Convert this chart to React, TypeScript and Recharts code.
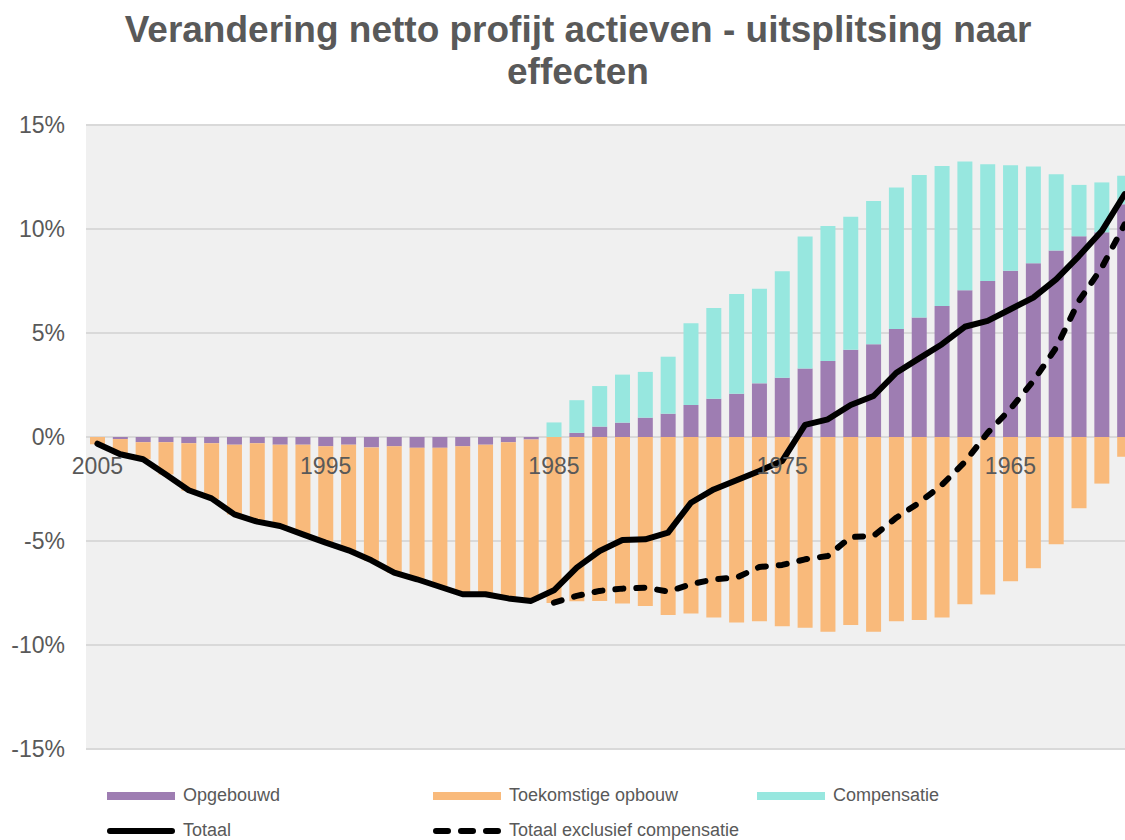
import React from 'react'
import {
  ComposedChart,
  Bar,
  Line,
  XAxis,
  YAxis,
  CartesianGrid,
} from 'recharts'

// categories (x axis runs from 2005 back to 1960)
const years = [
  2005, 2004, 2003, 2002, 2001, 2000, 1999, 1998, 1997, 1996,
  1995, 1994, 1993, 1992, 1991, 1990, 1989, 1988, 1987, 1986,
  1985, 1984, 1983, 1982, 1981, 1980, 1979, 1978, 1977, 1976,
  1975, 1974, 1973, 1972, 1971, 1970, 1969, 1968, 1967, 1966,
  1965, 1964, 1963, 1962, 1961, 1960,
]

// values in %
const opgebouwd = [
  0, -0.1, -0.25, -0.25, -0.3, -0.3, -0.37, -0.3, -0.37, -0.37,
  -0.45, -0.37, -0.5, -0.45, -0.52, -0.52, -0.45, -0.37, -0.25, -0.12,
  0, 0.2, 0.5, 0.69, 0.93, 1.12, 1.54, 1.84, 2.08, 2.58,
  2.85, 3.29, 3.65, 4.2, 4.46, 5.19, 5.74, 6.3, 7.06, 7.5,
  7.99, 8.35, 8.97, 9.65, 9.84, 11.19,
]

const toekomstigeOpbouw = [
  -0.35, -0.73, -0.82, -1.55, -2.28, -2.68, -3.35, -3.77, -3.92, -4.31,
  -4.63, -5.1, -5.45, -6.08, -6.35, -6.7, -7.1, -7.2, -7.5, -7.76,
  -7.98, -7.9, -7.88, -8.01, -8.13, -8.56, -8.49, -8.68, -8.92, -8.86,
  -9.1, -9.17, -9.36, -9.04, -9.36, -8.86, -8.8, -8.68, -8.04, -7.57,
  -6.94, -6.31, -5.16, -3.43, -2.24, -0.95,
]

const compensatie = [
  0, 0, 0, 0, 0, 0, 0, 0, 0, 0,
  0, 0, 0, 0, 0, 0, 0, 0, 0, 0,
  0.7, 1.57, 1.95, 2.31, 2.2, 2.74, 3.93, 4.36, 4.79, 4.55,
  5.12, 6.35, 6.49, 6.39, 6.89, 6.81, 6.86, 6.73, 6.18, 5.61,
  5.07, 4.65, 3.66, 2.47, 2.4, 1.37,
]

const totaal = [
  -0.32, -0.83, -1.07, -1.8, -2.56, -2.95, -3.72, -4.07, -4.28, -4.68,
  -5.08, -5.45, -5.93, -6.52, -6.84, -7.2, -7.56, -7.56, -7.76, -7.88,
  -7.37, -6.28, -5.48, -4.95, -4.92, -4.6, -3.16, -2.52, -2.08, -1.63,
  -1.15, 0.58, 0.85, 1.54, 1.97, 3.09, 3.78, 4.46, 5.3, 5.58,
  6.14, 6.7, 7.58, 8.7, 9.9, 11.67,
]

const totaalExclCompensatie = [
  null, null, null, null, null, null, null, null, null, null,
  null, null, null, null, null, null, null, null, null, null,
  -7.96, -7.64, -7.4, -7.29, -7.24, -7.43, -7.08, -6.84, -6.76, -6.25,
  -6.15, -5.88, -5.72, -4.81, -4.76, -3.88, -3.16, -2.3, -1.2, 0.2,
  1.35, 2.69, 4.29, 6.54, 8.14, 10.22,
]

const yTicks = [-15, -10, -5, 0, 5, 10, 15]

const data = years.map((year, i) => ({
  year,
  opgebouwd: opgebouwd[i],
  toekomstig: toekomstigeOpbouw[i],
  compensatie: compensatie[i],
  totaal: totaal[i],
  exclComp: totaalExclCompensatie[i],
}))

const FONT = '"Liberation Sans", Arial, sans-serif'
const TEXT = '#595959'
const PURPLE = '#9E7DB2'
const ORANGE = '#F9BA7B'
const TEAL = '#97E7DF'

const CHART_W = 1140
const CHART_H = 840
const X_AXIS_H = 30
const MARGIN = { top: 125, right: 4, bottom: 91 - X_AXIS_H, left: 0 }
const PLOT_H = CHART_H - MARGIN.top - MARGIN.bottom - X_AXIS_H

// the year labels sit just under the zero line, like in Excel
const YearTick = (props: any) => {
  const { x, y, payload } = props
  return (
    <text
      x={x}
      y={y - PLOT_H / 2 + 37}
      textAnchor='middle'
      fill={TEXT}
      fontSize={23}
      fontFamily={FONT}
    >
      {payload.value}
    </text>
  )
}

const legendItems = [
  { label: 'Opgebouwd', kind: 'bar', color: PURPLE },
  { label: 'Toekomstige opbouw', kind: 'bar', color: ORANGE },
  { label: 'Compensatie', kind: 'bar', color: TEAL },
  { label: 'Totaal', kind: 'line', color: '#000' },
  { label: 'Totaal exclusief compensatie', kind: 'dash', color: '#000' },
]

function LegendBlock() {
  return (
    <div
      style={{
        position: 'absolute',
        left: 107,
        top: 778,
        display: 'grid',
        gridTemplateColumns: '326px 324px 200px',
        gridAutoRows: '35px',
        fontFamily: FONT,
        fontSize: 18,
        color: TEXT,
      }}
    >
      {legendItems.map((it) => (
        <div key={it.label} style={{ display: 'flex', alignItems: 'center' }}>
          <svg width={68} height={12} style={{ marginRight: 8 }}>
            {it.kind === 'bar' && (
              <rect x={0} y={2} width={68} height={8} fill={it.color} />
            )}
            {it.kind === 'line' && (
              <line
                x1={3}
                y1={6}
                x2={65}
                y2={6}
                stroke={it.color}
                strokeWidth={6}
                strokeLinecap='round'
              />
            )}
            {it.kind === 'dash' && (
              <line
                x1={3}
                y1={6}
                x2={65}
                y2={6}
                stroke={it.color}
                strokeWidth={6}
                strokeLinecap='round'
                strokeDasharray='12 13'
              />
            )}
          </svg>
          <span>{it.label}</span>
        </div>
      ))}
    </div>
  )
}

export default function App() {
  return (
    <div
      style={{
        position: 'absolute',
        left: 0,
        top: 0,
        width: 1125,
        height: 840,
        overflow: 'hidden',
        background: '#fff',
      }}
    >
      <div
        style={{
          position: 'absolute',
          left: 0,
          top: 9,
          width: 1156,
          textAlign: 'center',
          fontFamily: FONT,
          fontWeight: 'bold',
          fontSize: 37,
          lineHeight: '42px',
          color: TEXT,
        }}
      >
        Verandering netto profijt actieven - uitsplitsing naar
        <br />
        effecten
      </div>
      <div style={{ position: 'absolute', left: 0, top: 0 }}>
        <ComposedChart
          width={CHART_W}
          height={CHART_H}
          data={data}
          margin={MARGIN}
          stackOffset='sign'
          barSize={15}
        >
          <CartesianGrid
            vertical={false}
            stroke='#D9D9D9'
            strokeWidth={2}
            fill='#F0F0F0'
            fillOpacity={1}
          />
          <YAxis
            width={86}
            domain={[-15, 15]}
            ticks={yTicks}
            tickFormatter={(v: number) => `${v}%`}
            axisLine={false}
            tickLine={false}
            tickSize={0}
            tickMargin={21}
            tick={{ fill: TEXT, fontSize: 23, fontFamily: FONT }}
          />
          <Bar
            dataKey='opgebouwd'
            stackId='a'
            fill={PURPLE}
            isAnimationActive={false}
          />
          <Bar
            dataKey='toekomstig'
            stackId='a'
            fill={ORANGE}
            isAnimationActive={false}
          />
          <Bar
            dataKey='compensatie'
            stackId='a'
            fill={TEAL}
            isAnimationActive={false}
          />
          <XAxis
            dataKey='year'
            height={X_AXIS_H}
            interval={9}
            axisLine={false}
            tickLine={false}
            tickSize={0}
            tickMargin={0}
            tick={YearTick}
          />
          <Line
            type='linear'
            dataKey='totaal'
            stroke='#000'
            strokeWidth={6}
            strokeLinejoin='round'
            strokeLinecap='round'
            dot={false}
            activeDot={false}
            isAnimationActive={false}
          />
          <Line
            type='linear'
            dataKey='exclComp'
            stroke='#000'
            strokeWidth={6}
            strokeDasharray='8 13'
            strokeLinejoin='round'
            strokeLinecap='round'
            dot={false}
            activeDot={false}
            isAnimationActive={false}
          />
        </ComposedChart>
      </div>
      <LegendBlock />
    </div>
  )
}
